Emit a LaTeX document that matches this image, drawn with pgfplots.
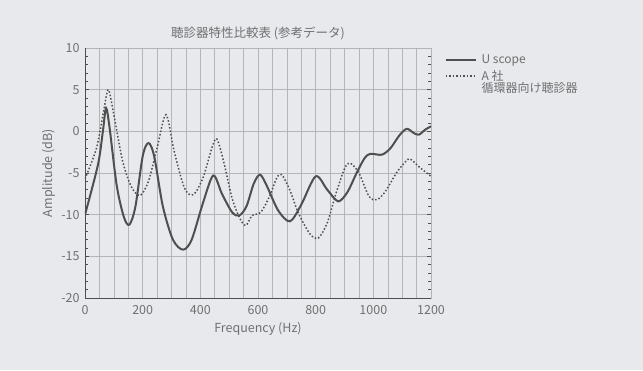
\documentclass[border=0pt]{standalone}
\usepackage{pgfplots}
\pgfplotsset{compat=1.18}
\usepackage{fontspec}
\setmainfont{Noto Sans CJK JP}
\definecolor{bgc}{HTML}{E8E9ED}
\definecolor{txt}{HTML}{707070}
\definecolor{crv}{HTML}{4F4F4F}
\definecolor{grd}{HTML}{B4B5B8}
\begin{document}
\begin{tikzpicture}
\fill[bgc] (-85pt,-72pt) rectangle (558pt,298pt);
\begin{axis}[
  at={(0,0)}, anchor=south west,
  scale only axis, width=346pt, height=250pt,
  xmin=0, xmax=1200, ymin=-20, ymax=10,
  xtick={0,200,...,1200}, ytick={-20,-15,...,10},
  minor x tick num=3, minor y tick num=4,
  xmajorgrids, xminorgrids, ymajorgrids,
  major grid style={grd, line width=0.5pt},
  minor grid style={grd, line width=0.5pt},
  tick align=inside,
  xtick style={draw=none}, minor x tick style={draw=none},
  ytick style={crv, line width=0.6pt}, minor y tick style={crv, line width=0.6pt},
  major tick length=4pt, minor tick length=3pt,
  axis line style={grd},
  ticklabel style={font=\fontsize{12.5}{14}\selectfont, text=txt},
  /pgf/number format/assume math mode=true,
  /pgf/number format/1000 sep={},
  xlabel={Frequency (Hz)}, ylabel={Amplitude (dB)},
  label style={font=\fontsize{12.5}{14}\selectfont, text=txt},
  title={聴診器特性比較表 (参考データ)},
  title style={font=\fontsize{12.5}{14}\selectfont, text=txt, yshift=-1pt},
  xticklabel style={yshift=-4pt},
  yticklabel style={xshift=-2pt},
  xlabel style={yshift=-1pt},
  ylabel style={yshift=-1pt},
  legend style={at={(1.03,0.99)}, anchor=north west, draw=none, fill=none,
    font=\fontsize{12}{14}\selectfont, text=txt, row sep=1pt},
  legend image code/.code={\draw[#1] (0pt,0pt) -- (30pt,0pt);},
  legend cell align=left,
  clip=true,
]
\addplot[crv, line width=2pt, smooth, tension=0.5] coordinates {
(0,-10) (45,-4) (62,0) (73,2.8) (85,0.5) (110,-6.5) (135,-10.3) (154,-11.2)
(175,-9) (200,-3) (220,-1.4) (240,-3) (270,-9) (305,-13) (340,-14.2) (370,-13)
(410,-8.5) (445,-5.3) (475,-7.5) (510,-9.7) (535,-10.1) (560,-9) (585,-6.3)
(607,-5.2) (630,-6.5) (670,-9.5) (711,-10.8) (750,-8.8) (800,-5.4) (840,-7)
(878,-8.4) (910,-7.3) (942,-5.0) (970,-3.2) (990,-2.7) (1030,-2.8) (1060,-2)
(1090,-0.5) (1116,0.3) (1140,-0.2) (1158,-0.4) (1180,0.2) (1200,0.6)
};
\addlegendentry{\hspace{3pt}U scope}
\addplot[crv, line width=1.5pt, dotted, smooth, tension=0.5] coordinates {
(0,-5.7) (40,-2) (65,2.5) (81,5) (100,2) (130,-3.5) (160,-6.6) (191,-7.7)
(220,-6) (250,-2) (281,2) (310,-2.5) (345,-6.8) (376,-7.6) (410,-5.5) (440,-2)
(457,-0.9) (480,-3.5) (510,-8) (535,-10.3) (557,-11.3) (580,-10.1) (610,-9.7)
(640,-7.8) (665,-5.6) (682,-5.2) (710,-7) (740,-9.8) (780,-12.3) (809,-12.8)
(840,-11) (870,-7.5) (900,-4.5) (919,-3.8) (950,-5) (985,-7.8) (1012,-8.2)
(1040,-7.3) (1080,-5) (1110,-3.7) (1127,-3.3) (1160,-4.3) (1200,-5.4)
};
\addlegendentry{\hspace{3pt}\begin{tabular}[t]{@{}l@{}}A 社\\[-2pt]循環器向け聴診器\end{tabular}}
\draw[crv, line width=0.9pt] (rel axis cs:0,1) -- (rel axis cs:0,0) -- (rel axis cs:1,0);
\end{axis}
\end{tikzpicture}
\end{document}
